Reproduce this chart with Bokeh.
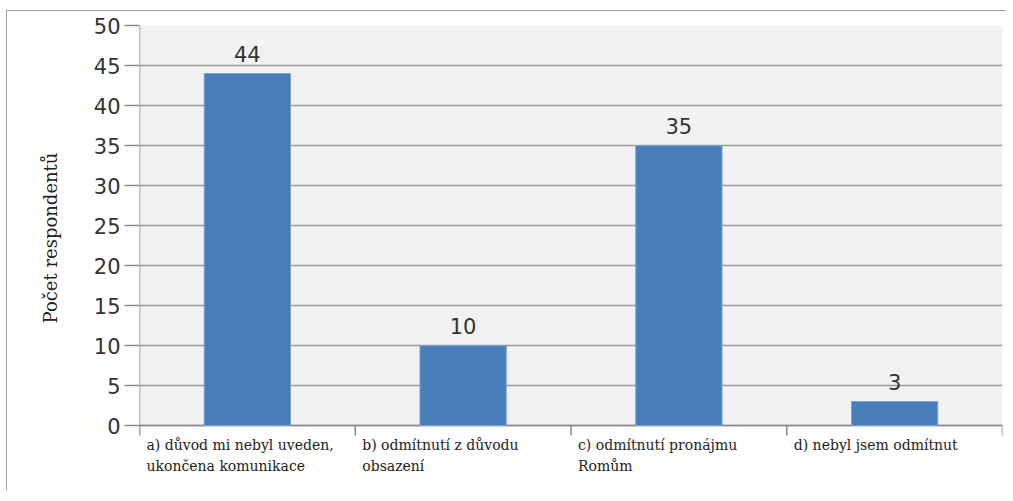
from bokeh.plotting import figure
from bokeh.models import Range1d, FixedTicker, ColumnDataSource, LabelSet, Title
from bokeh.core.properties import value
from bokeh.embed import file_html
from bokeh.resources import INLINE

categories = ["a) důvod mi nebyl uveden,\nukončena komunikace",
              "b) odmítnutí z důvodu\nobsazení",
              "c) odmítnutí pronájmu\nRomům",
              "d) nebyl jsem odmítnut"]
values = [44, 10, 35, 3]
y_ticks = [0, 5, 10, 15, 20, 25, 30, 35, 40, 45, 50]
y_label = "Počet respondentů"

n = len(values)
y_max = y_ticks[-1]
xs = [i + 0.5 for i in range(n)]
src = ColumnDataSource(dict(x=xs, top=values, lab=[str(v) for v in values]))
cat_src = ColumnDataSource(dict(x=list(range(n)), y=[0] * n, text=categories))
bnd = list(range(n + 1))

# frame extends below zero so that category labels can sit inside it (8 px per unit)
p = figure(width=1000, height=480, output_backend="svg", toolbar_location=None,
           x_range=Range1d(0, n), y_range=Range1d(-8.25, y_max),
           x_axis_type=None,
           min_border_left=131, min_border_right=5, min_border_top=14, min_border_bottom=0)
p.margin = (10, 0, 0, 6)
p.styles = {"border-left": "1px solid #a0a0a0", "border-top": "1px solid #a0a0a0"}
p.background_fill_color = "white"
p.border_fill_color = "white"
p.outline_line_color = None

# plot area background
p.quad(left=[0], right=[n], bottom=[0], top=[y_max], fill_color="#f2f2f2", line_color=None, level="underlay")

# grid
p.ygrid.ticker = FixedTicker(ticks=y_ticks)
p.ygrid.grid_line_color = "#9a9a9a"
p.ygrid.grid_line_width = 1.5
p.xgrid.grid_line_color = None

# axis lines and category boundary ticks
p.segment(x0=[0], y0=[-1.25], x1=[0], y1=[y_max], line_color="#8a8a8a", line_width=1.5)
p.segment(x0=[0], y0=[0], x1=[n], y1=[0], line_color="#8a8a8a", line_width=1.5)
p.segment(x0=bnd, y0=[0] * len(bnd), x1=bnd, y1=[-1.25] * len(bnd), line_color="#8a8a8a", line_width=1.5)

# bars
p.vbar(x="x", top="top", width=0.40, source=src, fill_color="#4a7ebb", line_color="#7aa3d6", line_width=1)

p.add_layout(LabelSet(x="x", y="top", text="lab", source=src, text_align="center",
                      text_baseline="bottom", y_offset=12, text_font=value("DejaVu Sans"),
                      text_font_size="21px", text_color="#333333"))

# category labels
p.text(x="x", y="y", text="text", source=cat_src, x_offset=7, y_offset=11,
       text_align="left", text_baseline="top", text_font=value("DejaVu Serif"),
       text_font_size="14px", text_color="#222222", text_line_height=1.35)

# y axis
p.yaxis.ticker = FixedTicker(ticks=y_ticks)
p.yaxis.minor_tick_line_color = None
p.yaxis.major_tick_out = 15
p.yaxis.major_tick_in = 0
p.yaxis.major_tick_line_color = "#8a8a8a"
p.yaxis.major_tick_line_width = 1.5
p.yaxis.axis_line_color = None
p.yaxis.major_label_text_font = "DejaVu Sans"
p.yaxis.major_label_text_font_size = "21px"
p.yaxis.major_label_text_color = "#333333"
p.yaxis.major_label_standoff = 4

p.add_layout(Title(text=y_label, align="left", offset=168, standoff=60,
                   text_font="DejaVu Serif", text_font_style="normal",
                   text_font_size="18px", text_color="#222222"), "left")

open("out.html", "w").write(file_html(p, INLINE))
